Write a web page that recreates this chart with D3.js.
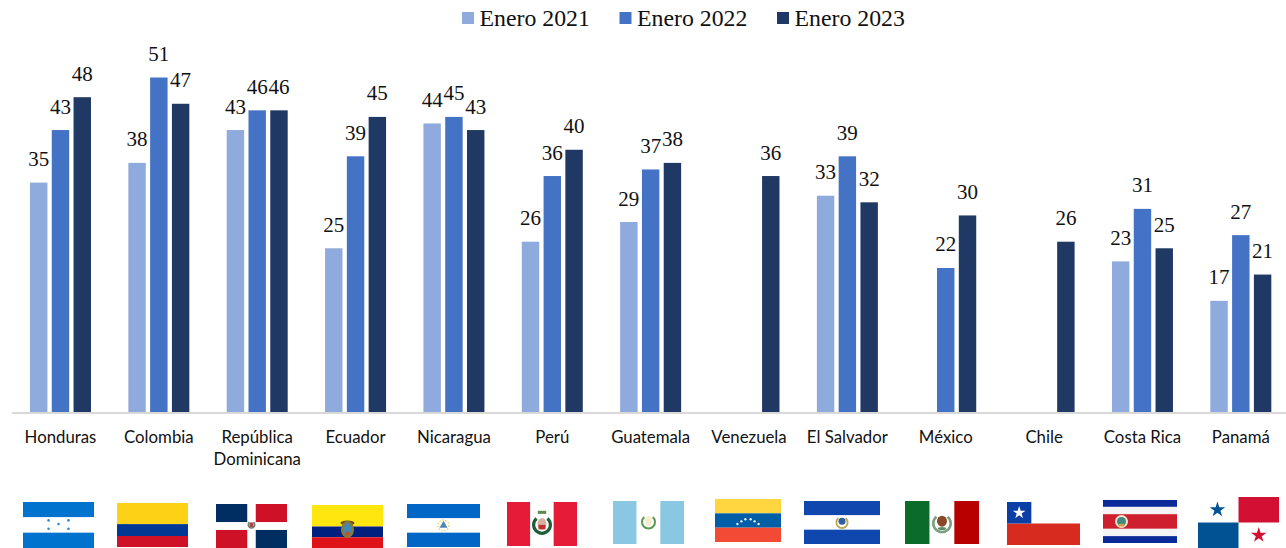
<!DOCTYPE html>
<html>
<head>
<meta charset="utf-8">
<script src="https://cdn.jsdelivr.net/npm/d3@7"></script>
<style>
  html, body { margin: 0; padding: 0; background: #fff; overflow: hidden; }
  svg { display: block; }
</style>
</head>
<body>
<div id="chart"></div>
<script>
const categories = ["Honduras", "Colombia", "República Dominicana", "Ecuador", "Nicaragua", "Perú",
  "Guatemala", "Venezuela", "El Salvador", "México", "Chile", "Costa Rica", "Panamá"];
const seriesNames = ["Enero 2021", "Enero 2022", "Enero 2023"];
const enero2021 = [35, 38, 43, 25, 44, 26, 29, null, 33, null, null, 23, 17];
const enero2022 = [43, 51, 46, 39, 45, 36, 37, null, 39, 22, null, 31, 27];
const enero2023 = [48, 47, 46, 45, 43, 40, 38, 36, 32, 30, 26, 25, 21];
const seriesValues = [enero2021, enero2022, enero2023];
const colors = ["#8faadc", "#4472c4", "#1f3864"];

const width = 1286, height = 548;
const svg = d3.select("#chart").append("svg")
  .attr("width", width)
  .attr("height", height)
  .attr("viewBox", `0 0 ${width} ${height}`);

// scales: the last group runs past the right edge, same as the picture
const x0 = d3.scaleBand().domain(categories).range([11.3, 1290]).paddingInner(0.38).paddingOuter(0.19);
const x1 = d3.scaleBand().domain(seriesNames).range([0, x0.bandwidth()]).paddingInner(0.2);
const y = d3.scaleLinear().domain([0, 51]).range([412.5, 77.5]);

// bars
const groups = svg.append("g").selectAll("g")
  .data(seriesNames)
  .enter().append("g")
  .attr("fill", (d, i) => colors[i]);

groups.selectAll("rect")
  .data((d, i) => categories.map((c, j) => ({ cat: c, s: d, v: seriesValues[i][j] })).filter(d => d.v !== null))
  .enter().append("rect")
  .attr("x", d => x0(d.cat) + x1(d.s))
  .attr("y", d => y(d.v))
  .attr("width", x1.bandwidth())
  .attr("height", d => y(0) - y(d.v));

groups.selectAll("text")
  .data((d, i) => categories.map((c, j) => ({ cat: c, s: d, v: seriesValues[i][j] })).filter(d => d.v !== null))
  .enter().append("text")
  .attr("x", d => x0(d.cat) + x1(d.s) + x1.bandwidth() / 2)
  .attr("y", d => y(d.v) - 16.5)
  .attr("text-anchor", "middle")
  .attr("font-family", "'Liberation Serif'")
  .attr("font-size", 21)
  .attr("fill", "#111")
  .text(d => d.v);

// axis
const axis = svg.append("g")
  .attr("transform", `translate(0,${y(0)})`)
  .call(d3.axisBottom(x0).tickSize(0).tickPadding(0));
axis.select(".domain").attr("stroke", "#d9d9d9").attr("stroke-width", 2);
axis.selectAll(".tick text")
  .attr("font-family", "Lato")
  .attr("font-size", 16.8)
  .attr("fill", "#111")
  .attr("y", 30.5)
  .attr("dy", 0)
  .each(function(d) {
    const parts = d === "República Dominicana" ? d.split(" ") : [d];
    const t = d3.select(this).text(null);
    parts.forEach((p, i) => {
      t.append("tspan").attr("x", 0).attr("dy", i ? 22 : 0).text(p);
    });
  });

// legend
const legend = svg.append("g").selectAll("g")
  .data(seriesNames)
  .enter().append("g")
  .attr("transform", (d, i) => `translate(${462 + i * 157.5},0)`);
legend.append("rect")
  .attr("y", 12).attr("width", 12).attr("height", 12)
  .attr("fill", (d, i) => colors[i]);
legend.append("text")
  .attr("x", 17.5).attr("y", 26)
  .attr("font-family", "'Liberation Serif'")
  .attr("font-size", 23.8)
  .attr("fill", "#111")
  .text(d => d);

// flags
const flagBoxes = [[23, 502, 71, 46], [117, 503, 71, 44], [216, 504, 71, 44], [312, 505, 71, 43], [407, 504, 73, 43],
  [507, 502, 70, 44], [613, 501, 71, 43], [715, 499, 66, 43], [804, 501, 76, 43], [905, 501, 74, 43],
  [1007, 502, 73, 43], [1103, 500, 74, 43], [1198, 497, 81, 51]];

function flagRect(g, b, fx, fy, fw, fh, fill) {
  g.append("rect")
    .attr("x", b[0] + fx * b[2]).attr("y", b[1] + fy * b[3])
    .attr("width", fw * b[2]).attr("height", fh * b[3])
    .attr("fill", fill);
}
function flagDot(g, b, fx, fy, r, fill) {
  g.append("circle").attr("cx", b[0] + fx * b[2]).attr("cy", b[1] + fy * b[3]).attr("r", r).attr("fill", fill);
}
function flagOval(g, b, fx, fy, rx, ry, fill) {
  g.append("ellipse").attr("cx", b[0] + fx * b[2]).attr("cy", b[1] + fy * b[3]).attr("rx", rx).attr("ry", ry).attr("fill", fill);
}
function flagStar(g, b, fx, fy, size, fill) {
  g.append("path")
    .attr("d", d3.symbol(d3.symbolStar, size))
    .attr("transform", `translate(${b[0] + fx * b[2]},${b[1] + fy * b[3]})`)
    .attr("fill", fill);
}
function hStripes(g, b, stops, fills) {
  fills.forEach((f, i) => flagRect(g, b, 0, stops[i], 1, stops[i + 1] - stops[i], f));
}
function vStripes(g, b, fills) {
  fills.forEach((f, i) => flagRect(g, b, i / 3, 0, 1 / 3, 1, f));
}
// open wreath round the coat of arms, gap at the top
function wreath(g, b, fx, fy, r, stroke, w) {
  g.append("path")
    .attr("d", d3.arc()({ innerRadius: r - w, outerRadius: r, startAngle: 0.7, endAngle: 2 * Math.PI - 0.7 }))
    .attr("transform", `translate(${b[0] + fx * b[2]},${b[1] + fy * b[3]})`)
    .attr("fill", stroke);
}

const flagDrawers = [
  (g, b) => { // Honduras
    hStripes(g, b, [0, 1 / 3, 2 / 3, 1], ["#0073cf", "#fff", "#0073cf"]);
    [[0.36, 0.4], [0.64, 0.4], [0.5, 0.48], [0.36, 0.58], [0.64, 0.58]].forEach(p => flagDot(g, b, p[0], p[1], 1.3, "#2f8ad8"));
  },
  (g, b) => hStripes(g, b, [0, 0.48, 0.75, 1], ["#fcd116", "#003893", "#ce1126"]), // Colombia
  (g, b) => { // Rep. Dominicana
    flagRect(g, b, 0, 0, 0.44, 0.41, "#002d62");
    flagRect(g, b, 0.56, 0, 0.44, 0.41, "#ce1126");
    flagRect(g, b, 0, 0.59, 0.44, 0.41, "#ce1126");
    flagRect(g, b, 0.56, 0.59, 0.44, 0.41, "#002d62");
    wreath(g, b, 0.5, 0.47, 4, "#5f8a6a", 1.5);
    flagRect(g, b, 0.47, 0.42, 0.06, 0.11, "#b8404a");
  },
  (g, b) => { // Ecuador
    hStripes(g, b, [0, 0.5, 0.75, 1], ["#ffe60f", "#00207f", "#df1119"]);
    flagOval(g, b, 0.5, 0.42, 7, 2.5, "#6a5020");
    flagOval(g, b, 0.5, 0.57, 6.5, 8.5, "#8a7a30");
    flagOval(g, b, 0.5, 0.57, 4, 6.5, "#3f8ab0");
    flagOval(g, b, 0.5, 0.66, 2.5, 2, "#c8502a");
  },
  (g, b) => { // Nicaragua
    hStripes(g, b, [0, 1 / 3, 2 / 3, 1], ["#0067c6", "#fff", "#0067c6"]);
    g.append("circle").attr("cx", b[0] + 0.5 * b[2]).attr("cy", b[1] + 0.5 * b[3]).attr("r", 5.5)
      .attr("fill", "none").attr("stroke", "#e8d060").attr("stroke-width", 1.2).attr("stroke-dasharray", "1.5 1.5");
    g.append("path").attr("d", d3.symbol(d3.symbolTriangle, 28))
      .attr("transform", `translate(${b[0] + 0.5 * b[2]},${b[1] + 0.5 * b[3]})`).attr("fill", "#4f86b8");
  },
  (g, b) => { // Peru
    vStripes(g, b, ["#e61b37", "#fff", "#e61b37"]);
    wreath(g, b, 0.5, 0.52, 10, "#1f5f38", 3.2);
    flagOval(g, b, 0.5, 0.5, 4.5, 6, "#d8b0a0");
    flagRect(g, b, 0.44, 0.2, 0.12, 0.07, "#5f8a50");
    flagRect(g, b, 0.45, 0.52, 0.1, 0.1, "#c03030");
  },
  (g, b) => { // Guatemala
    vStripes(g, b, ["#89c7e3", "#fff", "#89c7e3"]);
    wreath(g, b, 0.5, 0.49, 7.5, "#5a9a50", 2);
    flagOval(g, b, 0.5, 0.47, 3.5, 5, "#f2eecb");
  },
  (g, b) => { // Venezuela
    hStripes(g, b, [0, 1 / 3, 2 / 3, 1], ["#ffd540", "#005ea6", "#f24a35"]);
    [0.34, 0.4, 0.46, 0.54, 0.6, 0.66].forEach((fx, i) => {
      flagDot(g, b, fx, [0.58, 0.52, 0.47, 0.47, 0.52, 0.58][i], 1.2, "#eef3f8");
    });
  },
  (g, b) => { // El Salvador
    hStripes(g, b, [0, 1 / 3, 2 / 3, 1], ["#0f47af", "#fff", "#0f47af"]);
    wreath(g, b, 0.5, 0.5, 6.5, "#b8a850", 1.8);
    flagOval(g, b, 0.5, 0.47, 3.5, 3.5, "#2f5fa0");
  },
  (g, b) => { // Mexico
    vStripes(g, b, ["#0b6b2a", "#fff", "#b80000"]);
    wreath(g, b, 0.5, 0.52, 10, "#7aa080", 2.6);
    flagOval(g, b, 0.5, 0.47, 5, 5.5, "#8a4a28");
    flagOval(g, b, 0.5, 0.64, 4, 1.5, "#5f8a6a");
  },
  (g, b) => { // Chile
    flagRect(g, b, 0, 0.5, 1, 0.5, "#d72b1f");
    flagRect(g, b, 0, 0, 1 / 3, 0.5, "#0b3fa6");
    flagStar(g, b, 1 / 6, 0.25, 50, "#fff");
  },
  (g, b) => { // Costa Rica
    hStripes(g, b, [0, 0.16, 0.33, 0.67, 0.84, 1], ["#0a2a9a", "#f4f4f6", "#ce1f2e", "#f4f4f6", "#0a2a9a"]);
    flagDot(g, b, 0.25, 0.5, 6.5, "#f0e6d0");
    flagDot(g, b, 0.25, 0.5, 4.5, "#3f8a80");
    flagOval(g, b, 0.25, 0.58, 3, 1.5, "#c8a040");
  },
  (g, b) => { // Panama
    flagRect(g, b, 0.5, 0, 0.5, 0.5, "#d21034");
    flagRect(g, b, 0, 0.5, 0.5, 0.5, "#005293");
    flagStar(g, b, 0.24, 0.25, 75, "#005293");
    flagStar(g, b, 0.75, 0.75, 75, "#d21034");
  }
];

svg.append("g").selectAll("g")
  .data(flagBoxes)
  .enter().append("g")
  .each(function(b, i) { flagDrawers[i](d3.select(this), b); });
</script>
</body>
</html>
